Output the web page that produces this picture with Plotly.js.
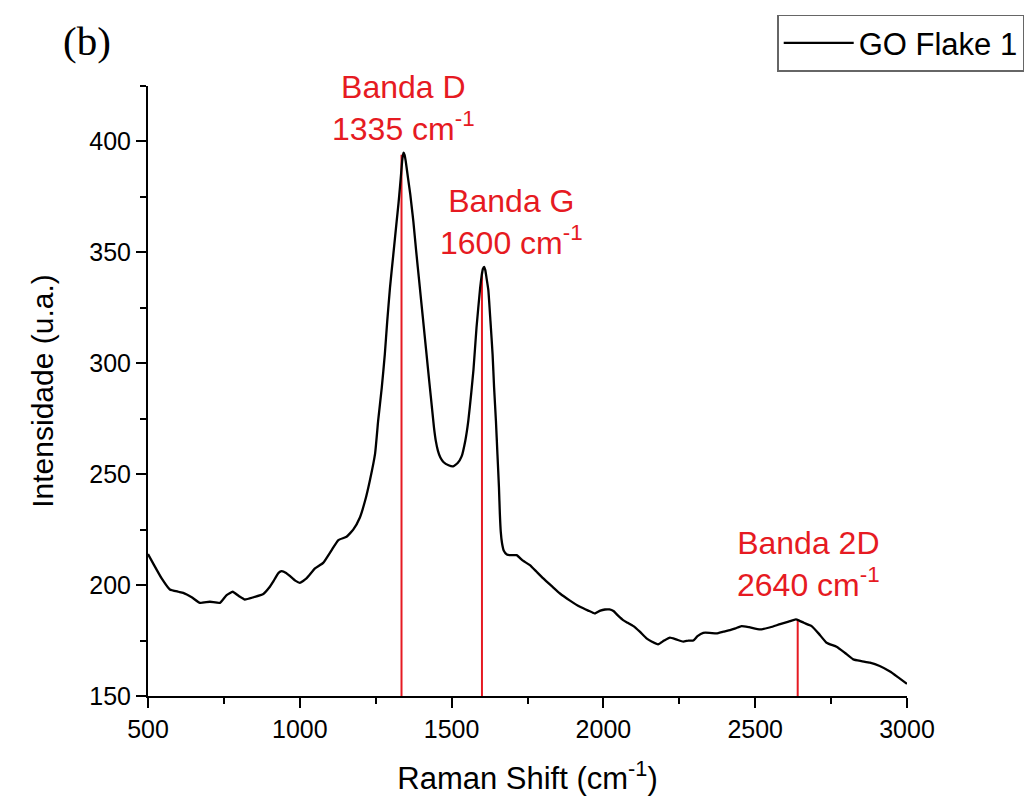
<!DOCTYPE html>
<html>
<head>
<meta charset="utf-8">
<script src="https://cdn.plot.ly/plotly-3.0.1.min.js"></script>
<style>html,body{margin:0;padding:0;background:#fff;}#chart{width:1025px;height:798px;}</style>
</head>
<body>
<div id="chart"></div>
<script>
// Raman spectrum
const ramanShift = [500,520,545,572,600,616,644,671,704,737,759,779,800,819,847,880,900,912,930,940,955,968,985,1000,1022,1050,1077,1105,1127,1154,1176,1198,1215,1231,1248,1258,1270,1280,1288,1297,1308,1319,1325,1330,1334,1337,1340,1342,1345,1349,1354,1359,1364,1369,1374,1383,1394,1405,1416,1427,1436,1442,1448,1455,1463,1473,1490,1505,1520,1533,1545,1555,1565,1572,1582,1594,1599,1603,1607,1611,1615,1621,1628,1635,1640,1646,1651,1656,1659,1662,1666,1672,1682,1695,1714,1735,1758,1780,1802,1830,1857,1890,1923,1950,1972,1990,2005,2020,2033,2050,2065,2080,2099,2120,2142,2160,2180,2200,2219,2240,2263,2280,2296,2310,2329,2350,2373,2395,2417,2435,2455,2480,2516,2550,2582,2610,2634,2645,2660,2686,2710,2735,2768,2795,2823,2850,2878,2910,2944,2970,3000];
const intensity  = [214,209,203,198,197,196.5,194.5,192,192.5,192,195.5,197,195,193.5,194.5,196,199,201.5,205.5,206.3,205.5,204,202,201,203,207.5,210,215.8,220.3,221.8,225,230.5,238,247.3,259.3,274,289,304,319,334,349,364,372,379.5,386,391,394,395,394,391,386,381,376,370,364,351,336,321,306,291,279,271,265,260.5,257.5,255.5,254,253.5,255,258,265,274,287,297,316,334,339.5,342.5,343.5,342,338.5,333,319,304,289,274,259,244,232,224,219,215.5,213.8,213.5,213.5,211,209,206,203,199.5,196.2,193,190.2,188.5,187.2,188.5,189,189,188.3,186,184.2,183,181.5,179,176,174.5,173.3,175,176.3,175.5,174.5,175,175,177,178.5,178.5,178.2,179,179.7,180.5,181.5,181,180,181,182.4,183.5,184.5,184,183,181.5,178,174,172.2,169.5,166.5,165.7,165,163.5,161,158.5,155.5];
const seriesName = "GO Flake 1";

// band markers
const bandNames  = ["Banda D", "Banda G", "Banda 2D"];
const bandShift  = [1335, 1600, 2640];
const bandHeight = [394, 341, 184.3];

const xTickVals = [500,1000,1500,2000,2500,3000];
const yTickVals = [150,200,250,300,350,400];

const red = "rgb(230,26,34)";

const traces = [];
bandShift.forEach((b, i) => {
  traces.push({
    x: [b, b], y: [150, bandHeight[i]],
    type: "scatter", mode: "lines",
    line: {color: red, width: 2},
    showlegend: false, hoverinfo: "skip"
  });
});
traces.push({
  x: ramanShift, y: intensity, name: seriesName,
  type: "scatter", mode: "lines",
  line: {color: "#000", width: 2.3, shape: "spline", smoothing: 0.4}
});

const annPos = [[1343, 415], [1696, 363.5], [2674, 209.5]];
const annotations = bandNames.map((n, i) => ({
  x: annPos[i][0], y: annPos[i][1], xref: "x", yref: "y",
  text: n + "<br>" + bandShift[i] + " cm<sup>-1</sup>",
  showarrow: false, align: "center", xanchor: "center", yanchor: "middle",
  font: {family: "Liberation Sans, Arial, sans-serif", size: 32, color: red}
}));
annotations.push({
  x: -0.081, y: 1.074, xref: "paper", yref: "paper",
  text: "(b)", showarrow: false, xanchor: "center", yanchor: "middle",
  font: {family: "Liberation Serif, Times New Roman, serif", size: 41, color: "#000"}
});

const axisFont = {family: "Liberation Sans, Arial, sans-serif", size: 25, color: "#000"};
const titleFont = {family: "Liberation Sans, Arial, sans-serif", size: 31, color: "#000"};

const layout = {
  width: 1025, height: 798,
  margin: {l: 148, r: 118, t: 86, b: 102, autoexpand: false},
  paper_bgcolor: "#fff", plot_bgcolor: "#fff",
  showlegend: true,
  legend: {
    x: 0.829, y: 1.117, xanchor: "left", yanchor: "top",
    bgcolor: "#fff", bordercolor: "#666", borderwidth: 1.5,
    font: {family: "Liberation Sans, Arial, sans-serif", size: 31, color: "#000"},
    itemwidth: 70
  },
  xaxis: {
    range: [500, 3000], tickmode: "array", tickvals: xTickVals,
    ticks: "outside", ticklen: 10, tickwidth: 2, tickcolor: "#000",
    showline: true, linecolor: "#000", linewidth: 2,
    showgrid: false, zeroline: false, tickfont: axisFont,
    minor: {dtick: 250, tick0: 500, ticks: "outside", ticklen: 6, tickwidth: 2, tickcolor: "#000", showgrid: false},
    title: {text: "Raman Shift (cm<sup>-1</sup>)", font: titleFont, standoff: 25}
  },
  yaxis: {
    range: [150, 425], tickmode: "array", tickvals: yTickVals,
    ticks: "outside", ticklen: 10, tickwidth: 2, tickcolor: "#000",
    showline: true, linecolor: "#000", linewidth: 2,
    showgrid: false, zeroline: false, tickfont: axisFont,
    minor: {dtick: 25, tick0: 150, ticks: "outside", ticklen: 6, tickwidth: 2, tickcolor: "#000", showgrid: false},
    title: {text: "Intensidade (u.a.)", font: {family: "Liberation Sans, Arial, sans-serif", size: 30, color: "#000"}, standoff: 27}
  },
  annotations: annotations
};

Plotly.newPlot("chart", traces, layout, {displayModeBar: false, staticPlot: true});
</script>
</body>
</html>
